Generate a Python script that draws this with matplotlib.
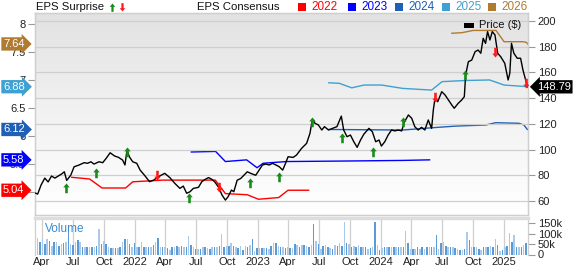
import numpy as np
import pandas as pd
import matplotlib
matplotlib.use("Agg")
import matplotlib.pyplot as plt
import matplotlib.dates as mdates
from matplotlib.path import Path
from matplotlib.patches import Rectangle
from matplotlib.lines import Line2D
from matplotlib.transforms import blended_transform_factory
from matplotlib.colors import LinearSegmentedColormap

plt.rcParams['font.family'] = ['Liberation Sans', 'DejaVu Sans']

# ---------------- data ----------------
price_dates = [
    "2021-03-11", "2021-03-19", "2021-03-29", "2021-04-09", "2021-04-19", "2021-04-29", "2021-05-09",
    "2021-05-19", "2021-05-29", "2021-06-06", "2021-06-13", "2021-06-25", "2021-07-05", "2021-07-20",
    "2021-08-04", "2021-08-14", "2021-08-24", "2021-09-02", "2021-09-17", "2021-09-28", "2021-10-08",
    "2021-10-20", "2021-11-02", "2021-11-14", "2021-11-26", "2021-12-03", "2021-12-09", "2021-12-16",
    "2021-12-26", "2022-01-07", "2022-01-17", "2022-01-30", "2022-02-14", "2022-02-26", "2022-03-10",
    "2022-03-20", "2022-03-31", "2022-04-15", "2022-04-30", "2022-05-15", "2022-05-25", "2022-06-04",
    "2022-06-14", "2022-06-24", "2022-07-09", "2022-07-19", "2022-07-29", "2022-08-08", "2022-08-18",
    "2022-08-26", "2022-09-07", "2022-09-17", "2022-09-27", "2022-10-05", "2022-10-15", "2022-10-22",
    "2022-11-01", "2022-11-11", "2022-11-21", "2022-12-01", "2022-12-11", "2022-12-26", "2023-01-05",
    "2023-01-15", "2023-01-25", "2023-02-04", "2023-02-14", "2023-02-24", "2023-03-06", "2023-03-16",
    "2023-03-24", "2023-04-01", "2023-04-16", "2023-04-26", "2023-05-11", "2023-05-26", "2023-06-05",
    "2023-06-12", "2023-06-20", "2023-06-30", "2023-07-10", "2023-07-18", "2023-07-30", "2023-08-11",
    "2023-08-24", "2023-09-06", "2023-09-13", "2023-09-23", "2023-10-03", "2023-10-13", "2023-10-23",
    "2023-11-02", "2023-11-12", "2023-11-27", "2023-12-07", "2023-12-17", "2023-12-27", "2024-01-03",
    "2024-01-13", "2024-01-23", "2024-02-02", "2024-02-12", "2024-02-22", "2024-03-03", "2024-03-11",
    "2024-03-23", "2024-04-02", "2024-04-11", "2024-04-21", "2024-05-01", "2024-05-11", "2024-05-21",
    "2024-05-31", "2024-06-05", "2024-06-10", "2024-06-18", "2024-06-30", "2024-07-10", "2024-07-20",
    "2024-07-30", "2024-08-06", "2024-08-18", "2024-08-28", "2024-09-05", "2024-09-09", "2024-09-17",
    "2024-09-27", "2024-10-07", "2024-10-16", "2024-10-24", "2024-10-31", "2024-11-07", "2024-11-13",
    "2024-11-20", "2024-11-27", "2024-12-05", "2024-12-13", "2024-12-22", "2025-01-03", "2025-01-13",
    "2025-01-18", "2025-01-23", "2025-01-30", "2025-02-09", "2025-02-19", "2025-02-26", "2025-03-06",
    "2025-03-12",
]
price_values = [
    66.2, 65.4, 72.4, 77.8, 74.8, 79.4, 77.8,
    79.4, 81.0, 82.7, 76.0, 80.0, 86.6, 88.0,
    89.8, 89.3, 90.5, 88.7, 90.5, 89.8, 93.1,
    97.5, 95.0, 93.9, 91.8, 88.0, 99.6, 94.4,
    90.5, 89.3, 84.0, 80.0, 75.0, 76.2, 78.5,
    80.0, 81.5, 78.2, 73.7, 69.8, 71.6, 66.0,
    67.2, 69.8, 70.6, 75.0, 76.8, 78.2, 76.8,
    75.0, 70.6, 64.6, 60.7, 63.3, 68.5, 67.2,
    76.2, 77.4, 80.0, 82.7, 81.5, 80.0, 84.0,
    88.0, 88.7, 88.0, 89.3, 88.0, 86.6, 84.0,
    89.0, 94.4, 93.9, 95.7, 100.9, 104.8, 112.6,
    123.5, 120.4, 119.1, 115.2, 117.8, 115.2, 116.5,
    117.8, 126.0, 115.2, 110.0, 111.3, 106.1, 101.7,
    107.4, 112.0, 116.5, 113.9, 106.1, 107.4, 102.7,
    106.1, 111.3, 115.2, 114.5, 115.2, 114.5, 121.3,
    126.9, 124.3, 117.8, 115.2, 117.3, 115.2, 123.0,
    116.5, 130.7, 139.8, 137.2, 145.0, 142.4, 138.5,
    134.6, 132.1, 136.0, 138.5, 141.1, 158.0, 168.3,
    169.6, 176.1, 177.4, 174.9, 186.5, 182.6, 191.7,
    185.2, 191.7, 189.1, 174.9, 172.2, 167.1, 154.1,
    159.3, 182.6, 174.9, 171.0, 171.0, 161.9, 154.1,
    148.79,
]

eps_2022_dates = ["2021-06-28", "2021-08-20", "2021-09-26", "2021-12-05", "2021-12-26", "2022-03-25",
                  "2022-08-28", "2022-09-27", "2022-12-01", "2023-01-03", "2023-03-04", "2023-04-01",
                  "2023-06-01"]
eps_2022_values = [5.27, 5.24, 5.08, 5.08, 5.19, 5.22, 5.22, 4.98, 4.96, 4.88, 4.91, 5.04, 5.04]

eps_2023_dates = ["2022-06-18", "2022-08-29", "2022-09-27", "2022-11-29", "2022-12-30", "2023-01-17",
                  "2023-03-28", "2023-10-01", "2024-03-06", "2024-05-25"]
eps_2023_values = [5.72, 5.73, 5.55, 5.58, 5.44, 5.52, 5.55, 5.56, 5.57, 5.58]

eps_2024_dates = ["2023-07-31", "2024-03-06", "2024-05-31", "2024-08-10", "2024-11-08", "2024-12-07",
                  "2025-02-14", "2025-03-01", "2025-03-11"]
eps_2024_values = [6.12, 6.11, 6.15, 6.18, 6.20, 6.24, 6.23, 6.20, 6.12]

eps_2025_dates = ["2023-07-31", "2023-08-31", "2023-10-07", "2023-11-13", "2024-01-03", "2024-03-06",
                  "2024-05-31", "2024-07-01", "2024-09-07", "2024-11-19", "2025-01-01", "2025-03-12"]
eps_2025_values = [6.95, 6.94, 6.86, 6.91, 6.91, 6.85, 6.82, 6.97, 6.99, 7.00, 6.91, 6.88]

eps_2026_dates = ["2024-07-30", "2024-08-29", "2024-10-01", "2024-12-08", "2025-01-01", "2025-02-25",
                  "2025-03-08", "2025-03-12"]
eps_2026_values = [7.83, 7.84, 7.88, 7.88, 7.68, 7.68, 7.67, 7.64]

eps_labels = ["2022", "2023", "2024", "2025", "2026"]
eps_colors = ["#ff0000", "#0000ff", "#1f5fb5", "#3fa0d2", "#b07a30"]

surprise_dates = ["2021-06-10", "2021-09-08", "2021-12-09", "2022-03-08", "2022-06-10", "2022-09-09",
                  "2022-12-10", "2023-03-06", "2023-06-10", "2023-09-08", "2023-12-08", "2024-03-06",
                  "2024-06-09", "2024-09-06", "2024-12-04", "2025-03-08"]
surprise_prices = [74.0, 85.7, 102.0, 76.3, 66.2, 67.0, 77.9, 82.6, 125.3, 112.9, 102.0, 125.3,
                   137.0, 161.9, 172.0, 147.9]
surprise_beat = [True, True, True, False, True, False, True, True, True, True, True, True,
                 False, True, False, False]

volume_start = "2021-03-12"
volume_k = [
    110, 78, 62, 74, 50, 75, 66, 42, 62, 58,
    40, 50, 54, 58, 110, 50, 48, 62, 70, 62,
    38, 38, 35, 38, 35, 38, 43, 124, 50, 66,
    50, 38, 32, 32, 32, 30, 38, 58, 75, 74,
    50, 38, 54, 38, 35, 62, 38, 35, 35, 35,
    46, 62, 78, 38, 38, 35, 30, 22, 38, 35,
    42, 38, 42, 38, 35, 87, 46, 38, 27, 27,
    27, 35, 35, 30, 27, 38, 35, 36, 40, 98,
    38, 43, 43, 54, 43, 38, 32, 40, 24, 40,
    38, 44, 75, 19, 32, 32, 30, 30, 32, 27,
    43, 54, 54, 43, 35, 38, 32, 35, 30, 30,
    51, 46, 38, 48, 46, 40, 36, 44, 149, 67,
    51, 27, 43, 46, 35, 30, 27, 46, 43, 54,
    43, 157, 54, 51, 38, 43, 35, 48, 35, 38,
    38, 27, 32, 35, 157, 46, 22, 32, 35, 35,
    35, 38, 35, 38, 38, 38, 38, 111, 54, 27,
    27, 27, 35, 27, 38, 27, 35, 35, 38, 38,
    94, 27, 54, 59, 43, 38, 35, 35, 32, 27,
    22, 22, 27, 110, 71, 35, 38, 35, 27, 22,
    35, 35, 35, 43, 38, 75, 48, 19, 22, 38,
    43, 105, 59, 95, 38, 38, 38, 46, 54,
]

price_last_label = "148.79"
x_start, x_end = "2021-03-11", "2025-03-13"

# ---------------- figure ----------------
W, H = 573, 266
fig = plt.figure(figsize=(W / 100, H / 100), dpi=100)
fig.patch.set_facecolor("white")

L, R = 35, 528
TOP, BOT = 13, 215
VTOP, VBOT = 218, 254.5

ax_e = fig.add_axes([L / W, 1 - BOT / H, (R - L) / W, (BOT - TOP) / H])
ax_p = ax_e.twinx()
ax_v = fig.add_axes([L / W, 1 - VBOT / H, (R - L) / W, (VBOT - VTOP) / H])

xlim = (pd.Timestamp(x_start), pd.Timestamp(x_end))
grid_c = "#cfcfcf"
tick_c = "#222222"

# background gradient
cmap = LinearSegmentedColormap.from_list("bg", ["#ffffff", "#f2f2f2", "#e2e2e2"])
grad = np.linspace(0, 1, 256).reshape(-1, 1)
ax_e.imshow(grad, extent=[0, 1, 0, 1], transform=ax_e.transAxes, aspect="auto",
            cmap=cmap, origin="lower", zorder=0)
ax_e.set_xlim(*xlim)

# EPS consensus lines
eps_series = [(eps_2022_dates, eps_2022_values), (eps_2023_dates, eps_2023_values),
              (eps_2024_dates, eps_2024_values), (eps_2025_dates, eps_2025_values),
              (eps_2026_dates, eps_2026_values)]
for (d, v), c in zip(eps_series, eps_colors):
    ax_e.plot(pd.to_datetime(d), v, color=c, lw=1.0, zorder=3)
ax_e.set_ylim(4.60, 8.19)
ax_e.set_yticks([5, 5.5, 6, 6.5, 7, 7.5, 8])
ax_e.set_yticklabels(["5", "5.5", "6", "6.5", "7", "7.5", "8"])
ax_e.tick_params(axis="y", length=5, color="#999999", labelsize=8, labelcolor=tick_c, pad=2, width=0.8)
ax_e.tick_params(axis="x", length=0, labelbottom=False)

# price
ax_p.set_xlim(*xlim)
ax_p.set_ylim(49.1, 206.2)
ax_p.set_yticks([60, 80, 100, 120, 140, 160, 180, 200])
ax_p.tick_params(axis="y", length=5, color="#999999", labelsize=8, labelcolor=tick_c, pad=2, width=0.8)
ax_p.tick_params(axis="x", length=0, labelbottom=False)
ax_p.xaxis.set_major_locator(mdates.MonthLocator(bymonth=(1, 4, 7, 10)))
ax_p.grid(True, color=grid_c, lw=0.9, zorder=0)
ax_p.set_axisbelow(True)
ax_p.plot(pd.to_datetime(price_dates), price_values, color="black", lw=1.0, zorder=4)

# surprise arrows
up_path = Path([(0, 0), (1, -1.2), (0.4, -1.2), (0.4, -3), (-0.4, -3), (-0.4, -1.2), (-1, -1.2), (0, 0)],
               [Path.MOVETO] + [Path.LINETO] * 6 + [Path.CLOSEPOLY])
down_path = Path([(x, -y) for x, y in up_path.vertices], up_path.codes)
sd = pd.to_datetime(surprise_dates)
for d, p, b in zip(sd, surprise_prices, surprise_beat):
    ax_p.plot([d], [p], marker=up_path if b else down_path, ms=14, mew=0,
              color="#1a8a1a" if b else "#ff1a1a", zorder=6, linestyle="none")

for a in (ax_e, ax_p):
    for s in a.spines.values():
        s.set_color(grid_c)
        s.set_linewidth(0.9)

# EPS boxes on left
tr_e = blended_transform_factory(fig.transFigure, ax_e.transData)
for (d, v), c in zip(eps_series, eps_colors):
    ax_e.text(3 / W, v[-1], f"{v[-1]:.2f}", transform=tr_e, color="white", fontsize=8,
              va="center", ha="left", clip_on=False, zorder=10,
              bbox=dict(boxstyle="rarrow,pad=0.15", fc=c, ec="none"))

# price box on right
tr_p = blended_transform_factory(fig.transFigure, ax_p.transData)
ax_p.text(537 / W, price_values[-1], price_last_label, transform=tr_p, color="white", fontsize=8,
          va="center", ha="left", clip_on=False, zorder=10,
          bbox=dict(boxstyle="larrow,pad=0.15", fc="black", ec="none"))

# volume
vdates = pd.date_range(volume_start, periods=len(volume_k), freq="7D")
vcols = ["#5a9ad6" if i % 2 == 0 else "#a9caec" for i in range(len(volume_k))]
ax_v.bar(vdates, volume_k, width=4.5, color=vcols, zorder=2, align="center")
ax_v.set_xlim(*xlim)
ax_v.set_ylim(0, 176)
ax_v.yaxis.tick_right()
ax_v.set_yticks([0, 50, 100, 150])
ax_v.set_yticklabels(["0", "50k", "100k", "150k"])
ax_v.tick_params(axis="y", length=5, color="#999999", labelsize=8, labelcolor=tick_c, pad=2, width=0.8)
ax_v.xaxis.set_major_locator(mdates.MonthLocator(bymonth=(1, 4, 7, 10)))

def fmt(x, pos=None):
    d = mdates.num2date(x)
    return str(d.year) if d.month == 1 else d.strftime("%b")

ax_v.xaxis.set_major_formatter(plt.FuncFormatter(fmt))
ax_v.tick_params(axis="x", length=0, labelsize=8, labelcolor=tick_c, pad=1.5)
ax_v.grid(True, axis="x", color=grid_c, lw=0.9, zorder=0)
ax_v.set_axisbelow(True)
for k, s in ax_v.spines.items():
    s.set_color(grid_c)
    s.set_linewidth(0.9)
ax_v.spines["top"].set_linewidth(2.5)
ax_v.spines["top"].set_color("#dddddd")
ax_v.spines["bottom"].set_visible(False)
fig.text(45 / W, 1 - 229 / H, "Volume", color="#3b8bcf", fontsize=8.5, va="center", ha="left")

# header legend
fig.text(36 / W, 1 - 7 / H, "EPS Surprise", fontsize=8.2, va="center", ha="left", color="#111111")
fig.add_artist(Line2D([111.5 / W], [1 - 2.5 / H], marker=up_path, ms=12, mew=0, color="#1a8a1a",
                      linestyle="none", transform=fig.transFigure))
fig.add_artist(Line2D([121.5 / W], [1 - 10.5 / H], marker=down_path, ms=12, mew=0, color="#ff1a1a",
                      linestyle="none", transform=fig.transFigure))
fig.text(197 / W, 1 - 7 / H, "EPS Consensus", fontsize=8.2, va="center", ha="left", color="#111111")
sq_x = [298, 348, 395, 442, 488]
for x0, lab, c in zip(sq_x, eps_labels, eps_colors):
    fig.add_artist(Rectangle((x0 / W, 1 - 10.5 / H), 7.5 / W, 7.5 / H, transform=fig.transFigure,
                             fc=c, ec="none"))
    fig.text((x0 + 13) / W, 1 - 7 / H, lab, fontsize=8.5, va="center", ha="left", color=c)

# Price legend inside
fig.add_artist(Rectangle((464 / W, 1 - 28 / H), 10 / W, 5 / H, transform=fig.transFigure,
                         fc="black", ec="none", zorder=20))
fig.text(479 / W, 1 - 25.5 / H, "Price ($)", fontsize=8, va="center", ha="left", color="#111111", zorder=20)

fig.savefig("out.png", dpi=100)
